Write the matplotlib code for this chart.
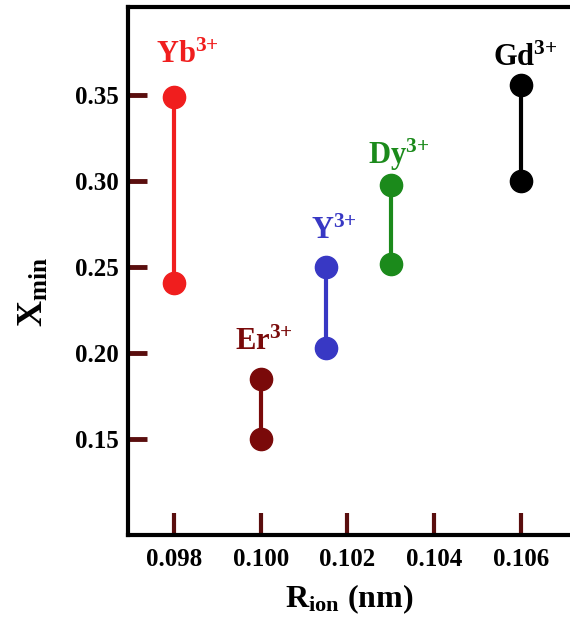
import matplotlib
matplotlib.use("Agg")
import matplotlib.pyplot as plt

plt.rcParams['font.family'] = 'Liberation Serif'
plt.rcParams['font.weight'] = 'bold'
plt.rcParams['mathtext.fontset'] = 'custom'
plt.rcParams['mathtext.rm'] = 'Liberation Serif:bold'
plt.rcParams['mathtext.bf'] = 'Liberation Serif:bold'
plt.rcParams['mathtext.it'] = 'Liberation Serif:bold'

# ion radius (nm) and x_min range for each dopant
ions     = ['Yb', 'Er', 'Y', 'Dy', 'Gd']
r_ion    = [0.098, 0.100, 0.1015, 0.103, 0.106]
x_high   = [0.349, 0.185, 0.250, 0.298, 0.356]
x_low    = [0.241, 0.150, 0.203, 0.252, 0.300]
colors   = ['#f01e1e', '#7a0a0a', '#3838c4', '#1b8a1b', '#000000']
label_xy = [(0.0983, 0.373), (0.10007, 0.206), (0.10168, 0.271),
            (0.10318, 0.315), (0.1061, 0.3715)]

x_ticks = [0.098, 0.100, 0.102, 0.104, 0.106]
y_ticks = [0.15, 0.20, 0.25, 0.30, 0.35]

fig = plt.figure(figsize=(5.7, 6.28), dpi=100)
ax = fig.add_axes([0.2246, 0.148, 0.7754, 0.8415])

for ion, r, hi, lo, c, (lx, ly) in zip(ions, r_ion, x_high, x_low, colors, label_xy):
    ax.plot([r, r], [lo, hi], color=c, lw=3, marker='o', ms=16, zorder=3)
    ax.text(lx, ly, ion + r'$^{3{+}}$', color=c, fontsize=22, fontweight='bold',
            ha='center', va='center')

ax.set_xlim(0.09694, 0.10713)
ax.set_ylim(0.0942, 0.4015)
ax.set_xticks(x_ticks)
ax.set_xticklabels([f'{v:.3f}' for v in x_ticks])
ax.set_yticks(y_ticks)
ax.set_yticklabels([f'{v:.2f}' for v in y_ticks])

for side in ['left', 'bottom', 'top']:
    ax.spines[side].set_linewidth(3)
ax.spines['right'].set_visible(False)

ax.tick_params(axis='y', direction='in', length=14, width=3.5, color='#5a0e0e',
               labelsize=18, pad=7)
ax.tick_params(axis='x', direction='in', length=16, width=3, color='#5a0e0e',
               labelsize=18, pad=9)

ax.set_ylabel(r'X$_{\mathrm{min}}$', fontsize=26, fontweight='bold')
ax.yaxis.set_label_coords(-0.175, 0.46)
ax.set_xlabel(r'R$_{\mathrm{ion}}$ (nm)', fontsize=23, fontweight='bold')
ax.xaxis.set_label_coords(0.5, -0.09)

fig.savefig('out.png', dpi=100)
